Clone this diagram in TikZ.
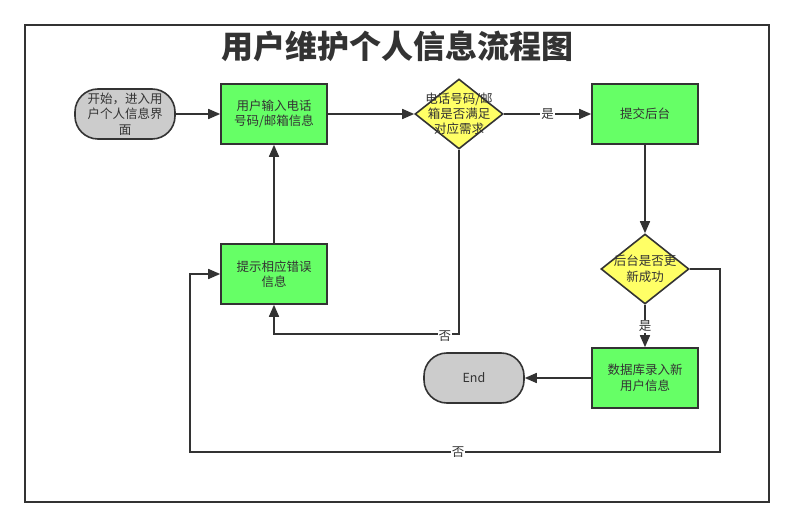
\documentclass[tikz,border=0pt]{standalone}
\usepackage{fontspec}
\setmainfont{Noto Sans CJK SC}
\usetikzlibrary{shapes.geometric,arrows.meta}
\definecolor{ink}{HTML}{333333}
\definecolor{boxgreen}{HTML}{66FF66}
\definecolor{decyellow}{HTML}{FFFF66}
\definecolor{termgray}{HTML}{CCCCCC}
\tikzset{
  base/.style={draw=ink, line width=1.6pt, text=ink, align=center,
    font=\fontsize{12.5}{15.5}\selectfont, inner sep=0pt},
  process/.style={base, fill=boxgreen, minimum width=106pt, minimum height=60pt},
  terminal/.style={base, fill=termgray, rounded corners=23pt,
    minimum width=100pt, minimum height=50pt},
  decision/.style={base, fill=decyellow, diamond, minimum width=88pt,
    minimum height=70pt},
  flow/.style={draw=ink, line width=1.6pt,
    -{Triangle[length=12pt,width=10pt]}},
  lbl/.style={fill=white, text=ink, inner sep=1pt,
    font=\fontsize{12.5}{14}\selectfont},
}
\begin{document}
\begin{tikzpicture}[x=1pt,y=-1pt]
\useasboundingbox (0,0) rectangle (793,529);
\fill[white] (0,0) rectangle (793,529);
% frame
\draw[ink, line width=1.6pt] (25,25) rectangle (769,502);
% title
\node (title) [text=ink, font=\fontsize{32}{34}\selectfont\bfseries] at (397,46)
  {用户维护个人信息流程图};

% nodes
\node (start) [terminal] at (125,114) {开始，进入用\\户个人信息界\\面};
\node (input) [process] at (274,114) {用户输入电话\\号码/邮箱信息};
\node (d1) [decision,
  label={[text=ink, align=center, font=\fontsize{12.5}{15}\selectfont]center:电话号码/邮\\箱是否满足\\对应需求}]
  at (459,114) {};
\node (submit) [process] at (645,114) {提交后台};
\node (d2) [decision,
  label={[text=ink, align=center, font=\fontsize{12.5}{15.5}\selectfont]center:后台是否更\\新成功}]
  at (645,269) {};
\node (db) [process] at (645,378) {数据库录入新\\用户信息};
\node (end) [terminal] at (474,378) {End};
\node (err) [process] at (274,274) {提示相应错误\\信息};

% bend points
\coordinate (n1) at (459,334);
\coordinate (n2) at (274,334);
\coordinate (m1) at (720,269);
\coordinate (m2) at (720,452);
\coordinate (m3) at (190,452);
\coordinate (m4) at (190,274);

% connectors
\draw[flow] (start) -- (input);
\draw[flow] (input) -- (d1);
\draw[flow] (d1) -- node[lbl]{是} (submit);
\draw[flow] (submit) -- (d2);
\draw[flow] (d2) -- node[lbl]{是} (db);
\draw[flow] (db) -- (end);
\draw[flow] (d1.south) -- (n1) -- node[lbl, pos=0.076, yshift=-2pt]{否} (n2) -- (err.south);
\draw[flow] (err) -- (input);
\draw[flow] (d2.east) -- (m1) -- (m2) -- node[lbl, pos=0.494]{否} (m3) -- (m4) -- (err.west);
\end{tikzpicture}
\end{document}
